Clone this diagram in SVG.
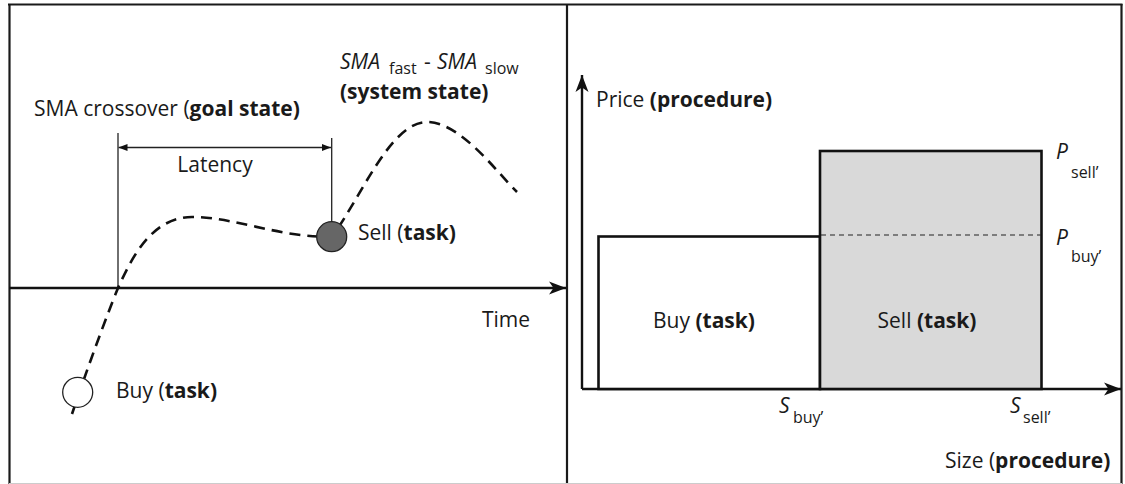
<svg xmlns="http://www.w3.org/2000/svg" width="1125" height="484" viewBox="0 0 1125 484">
<style>
text{font-family:"Open Sans","Liberation Sans",sans-serif;font-size:21px;fill:#1a1a1a}
.b{font-weight:700}
.i{font-style:italic}
.sub{font-size:16px}
.frame{stroke:#1a1a1a;stroke-width:2.2;fill:none}
.axis{stroke:#111;stroke-width:2.4;fill:none}
.thin{stroke:#222;stroke-width:1.3;fill:none}
.curve{stroke:#111;stroke-width:2.6;fill:none;stroke-dasharray:11 7}
.rect{stroke:#111;stroke-width:2.6}
</style>
<defs>
<marker id="stealth" markerUnits="userSpaceOnUse" markerWidth="18" markerHeight="14" refX="17" refY="7" orient="auto" viewBox="0 0 18 14">
<path d="M0,0.5 L17,7 L0,13.5 L4.5,7 z" fill="#111"/>
</marker>
<marker id="tri" markerUnits="userSpaceOnUse" markerWidth="9" markerHeight="8" refX="9" refY="4" orient="auto-start-reverse" viewBox="0 0 9 8">
<path d="M0,0.5 L9,4 L0,7.5 z" fill="#111"/>
</marker>
</defs>
<g id="frame">
<line class="frame" x1="8" y1="4.5" x2="1122.5" y2="4.5"/>
<line class="frame" x1="9.5" y1="4" x2="9.5" y2="484"/>
<line class="frame" x1="1121.5" y1="4" x2="1121.5" y2="484"/>
<line class="frame" x1="567" y1="4" x2="567" y2="484" stroke-width="2.6"/>
<line x1="9" y1="483.5" x2="1122" y2="483.5" stroke="#ccc" stroke-width="1"/>
</g>
<g id="connectors">
<line class="axis" x1="9" y1="288" x2="566" y2="288" marker-end="url(#stealth)"/>
<line class="thin" x1="118" y1="133" x2="118" y2="288"/>
<line class="thin" x1="331.7" y1="138" x2="331.7" y2="222"/>
<line class="thin" x1="118.5" y1="147.5" x2="331" y2="147.5" marker-start="url(#tri)" marker-end="url(#tri)"/>
<path id="system-state-curve" class="curve" d="M72,414 C85,375 105,320 118,288 C130,262 150,217 192,217 C235,217 280,238 331.7,236.7 C360,200 390,122 427,122 C460,122 495,170 517,192"/>
<line class="axis" x1="582" y1="389" x2="582" y2="75" stroke-width="2" marker-end="url(#stealth)"/>
<line class="axis" x1="582" y1="389" x2="1121" y2="389" stroke-width="2" marker-end="url(#stealth)"/>
</g>
<g id="sell-node">
<circle cx="331.7" cy="236.7" r="15" fill="#666" stroke="#222" stroke-width="1.3"/>
<text x="358" y="240">Sell (<tspan class="b">task)</tspan></text>
</g>
<g id="buy-node">
<circle cx="77.7" cy="392.3" r="15" fill="#fff" stroke="#222" stroke-width="1.3"/>
<text x="116" y="398">Buy (<tspan class="b">task)</tspan></text>
</g>
<g id="goal-state">
<text x="34" y="116">SMA crossover (<tspan class="b">goal state)</tspan></text>
</g>
<g id="latency">
<text x="215" y="172" text-anchor="middle">Latency</text>
</g>
<g id="system-state">
<text x="340" y="69"><tspan class="i">SMA</tspan><tspan class="sub" x="389" y="74">fast</tspan><tspan x="424" y="69">-</tspan><tspan class="i" x="437" y="69">SMA</tspan><tspan class="sub" x="485" y="74">slow</tspan></text>
<text x="340" y="99" class="b">(system state)</text>
</g>
<g id="time-label">
<text x="482" y="327">Time</text>
</g>
<g id="buy-rect">
<rect class="rect" x="598.5" y="236.5" width="221.5" height="152.5" fill="#fff"/>
<text x="704" y="328" text-anchor="middle">Buy <tspan class="b">(task)</tspan></text>
</g>
<g id="sell-rect">
<rect class="rect" x="820" y="151" width="221.5" height="238" fill="#d9d9d9"/>
<line x1="821" y1="235" x2="1041" y2="235" stroke="#222" stroke-width="1.2" stroke-dasharray="5 4"/>
<text x="927" y="328" text-anchor="middle">Sell <tspan class="b">(task)</tspan></text>
</g>
<g id="price-label">
<text x="596" y="107">Price <tspan class="b">(procedure)</tspan></text>
</g>
<g id="size-label">
<text x="945" y="468">Size (<tspan class="b">procedure)</tspan></text>
</g>
<g id="p-labels">
<text x="1056" y="159" class="i">P</text>
<text x="1071" y="178" class="sub">sell’</text>
<text x="1056" y="245" class="i">P</text>
<text x="1071" y="262" class="sub">buy’</text>
</g>
<g id="s-labels">
<text x="779" y="413" class="i">S</text>
<text x="793" y="423" class="sub">buy’</text>
<text x="1010" y="413" class="i">S</text>
<text x="1023" y="423" class="sub">sell’</text>
</g>
</svg>
